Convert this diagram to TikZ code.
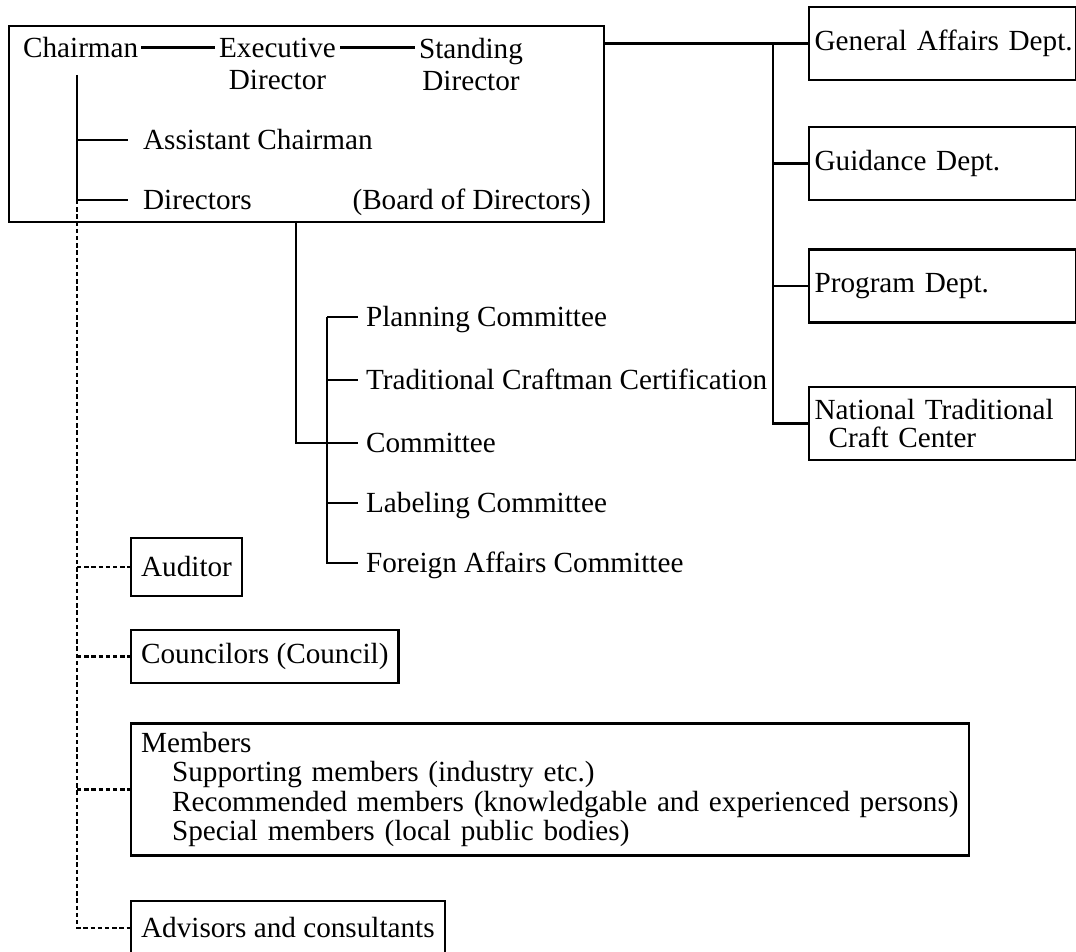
\documentclass[tikz,border=0pt]{standalone}
\usepackage{fontspec}
\setmainfont{Liberation Serif}
\begin{document}
\begin{tikzpicture}[x=0.5pt, y=-0.5pt, line width=1.1pt,
    font=\fontsize{14.6}{16}\selectfont,
    txt/.style={anchor=west, inner xsep=0pt, inner ysep=0pt, text height=9.7pt, text depth=0pt},
    role/.style={txt, inner xsep=7pt},
    cmte/.style={txt, inner xsep=3.5pt},
    duo/.style={anchor=north west, align=center, inner xsep=1.5pt, inner ysep=0pt},
    dept/.style={draw, anchor=west, text width=128pt, align=left, inner xsep=2.75pt, minimum height=36.5pt},
    side/.style={draw, anchor=west, inner xsep=5pt, minimum height=27pt},
    dotted link/.style={dash pattern=on 2.2pt off 1.4pt}]
    \useasboundingbox (0,0) rectangle (1076,952);

    % ---------------------------------------------
    % board of directors
    \node[draw, anchor=north west, minimum width=297.5pt, minimum height=98pt, inner sep=0pt] (board) at (8,25) {};
    \node[txt, inner xsep=1pt] (chair) at (20,47.5) {Chairman};
    \node[duo] (exec) at (215,37) {Executive\\Director};
    \node[duo] (stand) at (415,37) {Standing\\Director};
    \node[role] (asst) at (128,140) {Assistant Chairman};
    \node[role] (dir) at (128,200) {Directors};
    \node[txt, anchor=east] (bod) at (592,200) {(Board of Directors)};
    \coordinate (cv) at (77,75);

    \draw (chair.east) -- (chair.east -| exec.west);
    \draw (chair.east -| exec.east) -- (chair.east -| stand.west);
    \draw (cv) |- (dir.west);
    \draw (cv |- asst) -- (asst.west);

    % ---------------------------------------------
    % departments
    \node[dept] (gen) at (808,43.5) {\mbox{General Affairs Dept.}};
    \node[dept] (guid) at (808,163.5) {Guidance Dept.};
    \node[dept] (prog) at (808,286) {Program Dept.};
    \node[dept, font=\fontsize{14.6}{13.6}\selectfont] (nat) at (808,423.5) {National Traditional\\\hspace*{7pt}Craft Center};
    \coordinate (dtop) at (773,43.5);

    \draw (board.east |- gen) -- (gen.west);
    \draw (dtop) |- (nat.west);
    \draw (dtop |- guid) -- (guid.west);
    \draw (dtop |- prog) -- (prog.west);

    % ---------------------------------------------
    % committees
    \node[cmte] (plan) at (358,317) {Planning Committee};
    \node[cmte] (trad) at (358,380) {Traditional Craftman Certification};
    \node[cmte] (cmt) at (358,443) {Committee};
    \node[cmte] (lab) at (358,503) {Labeling Committee};
    \node[cmte] (fac) at (358,563) {Foreign Affairs Committee};
    \coordinate (bdrop) at (296,221);
    \coordinate (ctop) at (327,317);

    \draw (bdrop) |- (cmt.west);
    \draw (ctop) |- (fac.west);
    \draw (ctop) -- (plan.west);
    \draw (ctop |- trad) -- (trad.west);
    \draw (ctop |- lab) -- (lab.west);

    % ---------------------------------------------
    % bodies under the chairman
    \node[side, minimum height=29pt] (aud) at (130,567) {Auditor};
    \node[side, minimum height=26.5pt] (coun) at (130,656.5) {Councilors (Council)};
    \node[side, text width=409pt, align=left, minimum height=66pt, font=\fontsize{14.6}{14.7}\selectfont] (mem) at (130,789.5)
        {Members\\
         \hspace*{15.5pt}Supporting members (industry etc.)\\
         \hspace*{15.5pt}Recommended members (knowledgable and experienced persons)\\
         \hspace*{15.5pt}Special members (local public bodies)};
    \node[side] (adv) at (130,928) {Advisors and consultants};

    \draw[dotted link] (cv |- dir) |- (adv.west);
    \draw[dotted link] (cv |- aud) -- (aud.west);
    \draw[dotted link] (cv |- coun) -- (coun.west);
    \draw[dotted link] (cv |- mem) -- (mem.west);

\end{tikzpicture}
\end{document}
